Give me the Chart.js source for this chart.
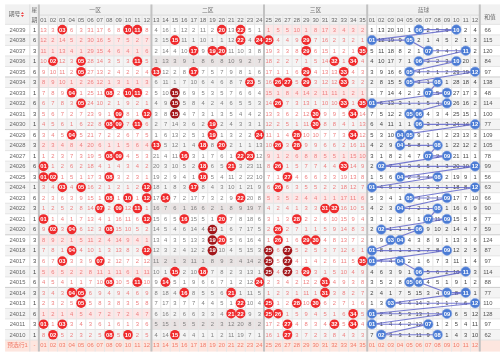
<!DOCTYPE html>
<html><head><meta charset="utf-8">
<script src="https://cdn.jsdelivr.net/npm/chart.js@4/dist/chart.umd.min.js"></script>
<style>html,body{margin:0;padding:0;background:#fff;overflow:hidden}canvas{display:block}</style>
</head><body>
<canvas id="c" width="500" height="356"></canvas>
<script>
// ---------------- data ----------------
const periods = ['24039','24038','24037','24036','24035','24034','24033','24032','24031','24030',
  '24029','24028','24027','24026','24025','24024','24023','24022','24021','24020',
  '24019','24018','24017','24016','24015','24014','24013','24012','24011','24010'];
const weekdays = [1,6,3,1,6,3,1,6,3,1,6,3,1,6,3,1,6,3,1,6,3,1,3,1,6,3,1,6,3,1];
const frontDraws = [[3,10,11,20,22],[15,22,24,25,29],[17,19,20,29,35],[2,5,11,32,34],[5,13,17,29,33],
  [23,26,27,29,33],[4,8,10,11,15],[5,15,26,33,35],[9,12,15,30,34],[8,9,11,19,30],
  [4,19,24,28,34],[13,18,20,26,28],[8,9,16,22,23],[1,18,21,26,33],[1,2,8,18,27],
  [3,5,12,17,26],[8,10,12,14,22],[7,9,11,31,32],[1,12,16,20,28],[2,4,8,19,26],
  [19,20,26,29,30],[4,12,19,25,27],[3,7,25,27,35],[15,18,25,27,29],[8,11,14,24,31],
  [4,5,16,21,31],[5,22,25,28,30],[21,22,25,26,34],[1,3,27,32,34],[2,8,10,15,27]];
const backDraws = [[6,10],[1,5],[7,11],[6,10],[5,12],[5,8],[7,9],[1,9],[5,6],[6,12],
  [4,5],[4,8],[7,9],[2,12],[4,8],[1,12],[5,9],[4,8],[7,9],[2,6],
  [3,4],[1,9],[1,4],[6,11],[5,6],[9,11],[3,12],[1,9],[1,7],[2,8]];
const sums = [66,115,120,84,97,138,48,114,100,77,109,105,78,99,56,63,66,90,77,59,124,87,97,114,88,77,110,128,97,62];
// omission values shown on the oldest row (24010); 0 = drawn
const frontMissOldest = [8,0,5,2,3,2,5,0,5,0,2,5, 4,14,0,4,4,1,1,2,11,19,7,1, 16,1,0,3,7,2,3,8,4,3,3];
const backMissOldest = [7,0,3,3,1,11,9,0,1,4,3,10];
const frontLabels = ['01','02','03','04','05','06','07','08','09','10','11','12','13','14','15','16','17','18',
  '19','20','21','22','23','24','25','26','27','28','29','30','31','32','33','34','35'];
const backLabels = ['01','02','03','04','05','06','07','08','09','10','11','12'];
const zoneNames = ['一区','二区','三区'];
const zoneRanges = [[1,12],[13,24],[25,35]];
const backTitle = '蓝球', sumTitle = '和值', periodTitle = '期号', weekTitle = ['星','期'];
const footerTitle = '预选行1', footerWeek = '-';

// -------------- derived --------------
const NR = periods.length, NF = frontLabels.length, NB = backLabels.length;
const frontMiss = new Array(NR), backMiss = new Array(NR);
for (let r = NR - 1; r >= 0; r--) {
  frontMiss[r] = frontLabels.map((_, i) => frontDraws[r].includes(i + 1) ? 0 :
    (r === NR - 1 ? frontMissOldest[i] : frontMiss[r + 1][i] + 1));
  backMiss[r] = backLabels.map((_, i) => backDraws[r].includes(i + 1) ? 0 :
    (r === NR - 1 ? backMissOldest[i] : backMiss[r + 1][i] + 1));
}
function runLen(r, k) {
  let a = r, b = r;
  while (a - 1 >= 0 && frontDraws[a - 1].includes(k)) a--;
  while (b + 1 < NR && frontDraws[b + 1].includes(k)) b++;
  return b - a + 1;
}
const redPts = [], redCols = [], bluePts = [];
frontDraws.forEach((d, r) => d.forEach(k => {
  redPts.push({x: k, y: r, t: frontLabels[k - 1]});
  redCols.push(runLen(r, k) >= 3 ? '#a3171b' : '#ef2b2d');
}));
backDraws.forEach((d, r) => d.forEach(j => bluePts.push({x: NF + j, y: r, t: backLabels[j - 1]})));

// -------------- layout (value units) --------------
const G = {pL: -3.1, wL: -0.46, wR: 0.5, bL: NF + 0.5, bR: NF + NB + 0.5, sR: 50, hT: -2.4, hM: -1.38, hB: -0.5};
const FONT = '"Liberation Sans","Noto Sans CJK SC",sans-serif';
const FS = 5.8;

const tablePlugin = {
  id: 'table',
  beforeDatasetsDraw(chart) {
    const ctx = chart.ctx, xs = chart.scales.x, ys = chart.scales.y;
    const X = v => xs.getPixelForValue(v), Y = v => ys.getPixelForValue(v);
    const rect = (x0, x1, y0, y1, c) => { ctx.fillStyle = c; ctx.fillRect(X(x0), Y(y0), X(x1) - X(x0), Y(y1) - Y(y0)); };
    const line = (x0, y0, x1, y1, c, w) => { ctx.strokeStyle = c; ctx.lineWidth = w; ctx.beginPath(); ctx.moveTo(X(x0), Y(y0)); ctx.lineTo(X(x1), Y(y1)); ctx.stroke(); };
    const txt = (s, x, y, c, size, bold) => { ctx.fillStyle = c; ctx.font = (bold ? 'bold ' : '') + size + 'px ' + FONT;
      ctx.textAlign = 'center'; ctx.textBaseline = 'middle'; ctx.fillText(s, X(x), Y(y) + 0.3); };
    ctx.save();
    rect(G.pL, G.sR, G.hT, NR + 0.6, '#ffffff');
    rect(G.pL, G.sR, G.hT, G.hB, '#f1f1f1');
    for (let r = 0; r < NR; r++) {
      if (r % 2 === 1) rect(G.pL, G.sR, r - 0.5, r + 0.5, '#f4f4f4');
      zoneRanges.forEach((z, zi) => {
        const empty = !frontDraws[r].some(k => k >= z[0] && k <= z[1]);
        if (empty) rect(z[0] - 0.5, z[1] + 0.5, r - 0.5, r + 0.5, zi === 1 ? '#e9e3e3' : '#fce7e7');
      });
    }
    rect(G.pL, G.sR, NR - 0.5, NR + 0.6, '#fde6df');
    // horizontal grid
    for (let r = 0; r <= NR; r++) {
      const c = (r % 5 === 0 && r > 0 && r < NR) ? '#cccccc' : '#e4e4e4';
      line(G.pL, r - 0.5, G.sR, r - 0.5, c, 1);
    }
    line(G.wR, G.hM, G.bR, G.hM, '#dcdcdc', 1);
    // vertical grid
    for (let k = 1; k < NF + NB; k++) {
      if (k === 12 || k === 24 || k === NF) continue;
      line(k + 0.5, G.hM, k + 0.5, NR + 0.6, '#e6e6e6', 1);
    }
    line(G.wL, G.hT, G.wL, NR + 0.6, '#dedede', 1);
    [G.wR, 12.5, 24.5, G.bL, G.bR].forEach(v => line(v, G.hT, v, NR + 0.6, '#c2c2c2', 2));
    // header
    txt(periodTitle, -2.1, (G.hT + G.hB) / 2, '#666', FS);
    ctx.fillStyle = '#e44';
    const ix = X(-1.25), iy = Y((G.hT + G.hB) / 2);
    ctx.beginPath(); ctx.moveTo(ix - 1.5, iy - 0.5); ctx.lineTo(ix + 1.5, iy - 0.5); ctx.lineTo(ix, iy - 2.5); ctx.fill();
    ctx.beginPath(); ctx.moveTo(ix - 1.5, iy + 0.5); ctx.lineTo(ix + 1.5, iy + 0.5); ctx.lineTo(ix, iy + 2.5); ctx.fill();
    txt(weekTitle[0], 0.02, (G.hT + G.hM) / 2, '#666', FS);
    txt(weekTitle[1], 0.02, (G.hM + G.hB) / 2, '#666', FS);
    zoneRanges.forEach((z, zi) => txt(zoneNames[zi], (z[0] + z[1]) / 2, (G.hT + G.hM) / 2 + 0.05, '#777', FS));
    txt(backTitle, NF + (NB + 1) / 2, (G.hT + G.hM) / 2 + 0.05, '#777', FS);
    txt(sumTitle, 48.6, -1.15, '#666', FS);
    frontLabels.forEach((s, i) => txt(s, i + 1, (G.hM + G.hB) / 2, '#666', FS));
    backLabels.forEach((s, i) => txt(s, NF + i + 1, (G.hM + G.hB) / 2, '#666', FS));
    // rows
    for (let r = 0; r < NR; r++) {
      txt(periods[r], -1.78, r, '#666', FS);
      txt(String(weekdays[r]), 0.04, r, '#444', FS);
      frontMiss[r].forEach((m, i) => {
        if (m === 0) return;
        const zone2 = i + 1 >= 13 && i + 1 <= 24;
        txt(String(m), i + 1, r, zone2 ? '#808080' : '#ee7f7f', FS);
      });
      backMiss[r].forEach((m, i) => { if (m > 0) txt(String(m), NF + i + 1, r, '#444', FS); });
      txt(String(sums[r]), 48.35, r, '#555', FS);
    }
    // footer
    txt(footerTitle, -1.78, NR, '#f07a68', FS);
    txt(footerWeek, 0.04, NR, '#f07a68', FS);
    frontLabels.forEach((s, i) => txt(s, i + 1, NR, '#f07a68', FS));
    backLabels.forEach((s, i) => txt(s, NF + i + 1, NR, '#f07a68', FS));
    ctx.restore();
  },
  afterDatasetsDraw(chart) {
    const ctx = chart.ctx;
    ctx.save();
    ctx.fillStyle = '#fff';
    ctx.font = 'bold 5.8px ' + FONT;
    ctx.textAlign = 'center'; ctx.textBaseline = 'middle';
    [0, 1].forEach(di => {
      const ds = chart.data.datasets[di];
      chart.getDatasetMeta(di).data.forEach((el, i) => ctx.fillText(ds.data[i].t, el.x, el.y + 0.3));
    });
    ctx.restore();
  }
};

new Chart(document.getElementById('c'), {
  type: 'scatter',
  data: {
    datasets: [
      {data: redPts, pointRadius: 4.8, pointBackgroundColor: redCols, pointBorderWidth: 0, order: 1},
      {data: bluePts, pointRadius: 4.8, pointBackgroundColor: '#4a7bd4', pointBorderColor: '#7ea0e4', pointBorderWidth: 0.6, order: 1},
      {data: bluePts, showLine: true, pointRadius: 0, borderColor: 'rgba(88,92,200,0.8)', borderWidth: 1.1, order: 5}
    ]
  },
  options: {
    responsive: false, devicePixelRatio: 1, animation: false, events: [],
    layout: {padding: 0},
    plugins: {legend: {display: false}, tooltip: {enabled: false}},
    scales: {
      x: {type: 'linear', min: -3.067, max: 49.08, display: false},
      y: {type: 'linear', min: -2.304, max: 30.507, reverse: true, display: false}
    }
  },
  plugins: [tablePlugin]
});
</script>
</body></html>
